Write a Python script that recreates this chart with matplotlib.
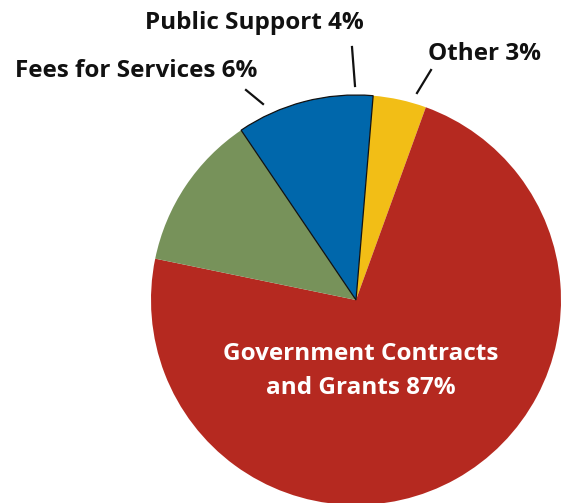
import matplotlib
matplotlib.use('Agg')
import matplotlib.pyplot as plt

# Slice sizes as drawn (the printed labels use their own percentages)
names = ['Other', 'Government Contracts', 'Fees for Services', 'Public Support']
sizes = [4.2, 72.7, 12.3, 10.8]
colors = ['#F2BE16', '#B52920', '#77925A', '#0067AB']
label_texts = ['Other 3%', 'Government Contracts\nand Grants 87%',
               'Fees for Services 6%', 'Public Support 4%']

W, H = 563, 503
fig = plt.figure(figsize=(W / 100, H / 100), dpi=100)
ax = fig.add_axes([0, 0, 1, 1])

# pixel-ish data coords, y up
cx, cy, r = 356, H - 300, 205
wedges, _ = ax.pie(sizes, colors=colors, startangle=85.2, counterclock=False,
                   center=(cx, cy), radius=r,
                   wedgeprops=dict(linewidth=0))
# only the blue slice has a thin dark outline
wedges[3].set_edgecolor('#111111')
wedges[3].set_linewidth(0.9)
wedges[3].set_zorder(3)

ax.set_xlim(0, W)
ax.set_ylim(0, H)
ax.set_aspect('auto')
ax.axis('off')

font = 'Open Sans'
fs = 17.5

# outside labels with leader lines
ax.text(136, H - 71, label_texts[2], ha='center', va='center',
        fontsize=fs, fontweight='bold', family=font, color='#111111')
ax.plot([246, 263], [H - 90, H - 104], color='#111111', lw=1.6)

ax.text(254, H - 23, label_texts[3], ha='center', va='center',
        fontsize=fs, fontweight='bold', family=font, color='#111111')
ax.plot([352, 355], [H - 47, H - 86], color='#111111', lw=1.6)

ax.text(485, H - 54, label_texts[0], ha='center', va='center',
        fontsize=fs, fontweight='bold', family=font, color='#111111')
ax.plot([431, 417], [H - 70, H - 93], color='#111111', lw=1.6)

# inside label
ax.text(361, H - 371, label_texts[1], ha='center', va='center',
        fontsize=fs, fontweight='bold', family=font, color='white',
        linespacing=1.5)

fig.savefig('out.png', dpi=100)
